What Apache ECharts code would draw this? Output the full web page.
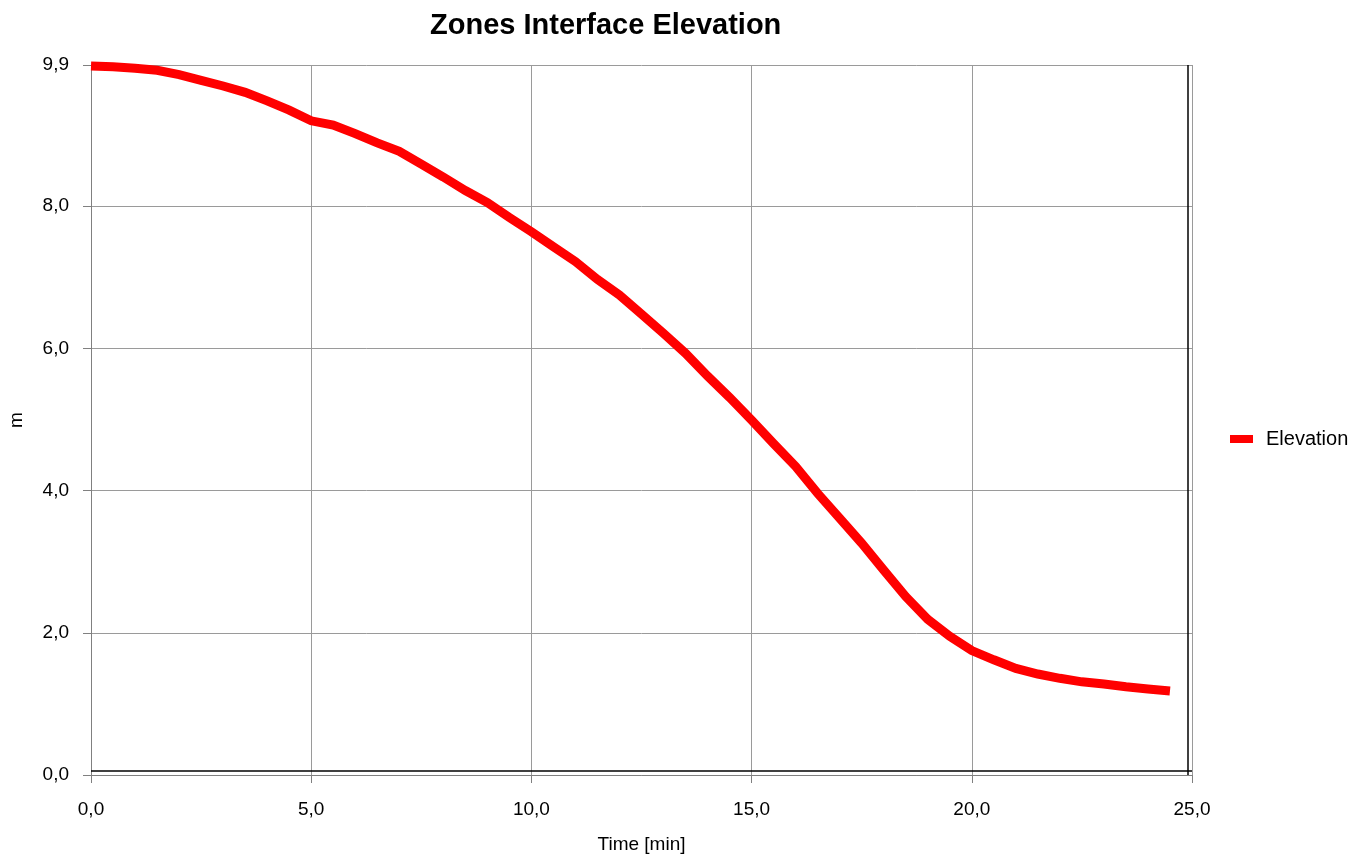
<!DOCTYPE html>
<html>
<head>
<meta charset="utf-8">
<script src="https://cdn.jsdelivr.net/npm/echarts@6/dist/echarts.min.js"></script>
<style>
html,body{margin:0;padding:0;background:#fff;}
#chart{width:1359px;height:858px;}
</style>
</head>
<body>
<div id="chart"></div>
<script>
// Time [min]
var timeMin = [0,0.5,1,1.5,2,2.5,3,3.5,4,4.5,5,5.5,6,6.5,7,7.5,8,8.5,9,9.5,10,10.5,11,11.5,12,12.5,13,13.5,14,14.5,15,15.5,16,16.5,17,17.5,18,18.5,19,19.5,20,20.5,21,21.5,22,22.5,23,23.5,24,24.5];
// Elevation [m]
var elevation = [9.97,9.96,9.94,9.91,9.85,9.77,9.69,9.60,9.48,9.35,9.20,9.14,9.02,8.89,8.77,8.59,8.41,8.22,8.05,7.84,7.64,7.43,7.22,6.97,6.75,6.48,6.21,5.93,5.61,5.31,4.99,4.66,4.34,3.96,3.61,3.26,2.88,2.51,2.19,1.95,1.75,1.62,1.50,1.42,1.36,1.31,1.28,1.24,1.21,1.18];
var seriesName = 'Elevation';
var titleText = 'Zones Interface Elevation';
var xName = 'Time [min]';
var yName = 'm';
var xMin = 0, xMax = 25, xStep = 5;
var yMin = 0, yMax = 9.985, yStep = 2;

function fmt(v){
  var f = Math.floor(v*10 + 1e-6)/10;
  return f.toFixed(1).replace('.', ',');
}

var points = timeMin.map(function(t,i){ return [t, elevation[i]]; });

var chart = echarts.init(document.getElementById('chart'), null, {renderer:'canvas'});
var font = '"Liberation Sans", Arial, sans-serif';
chart.setOption({
  animation:false,
  backgroundColor:'#ffffff',
  title:{
    text:titleText,
    left:425, top:6,
    textStyle:{fontFamily:font, fontWeight:'bold', fontSize:29, color:'#000'}
  },
  legend:{
    left:1230, top:429, padding:0,
    icon:'rect', itemWidth:23, itemHeight:8, itemGap:10,
    textStyle:{fontFamily:font, fontSize:20, color:'#000', padding:[0,0,0,8]},
    data:[seriesName]
  },
  grid:{left:91, right:167, top:65, bottom:83, containLabel:false, outerBoundsMode:'none'},
  xAxis:{
    type:'value', min:xMin, max:xMax, interval:xStep,
    name:xName, nameLocation:'middle', nameGap:60,
    nameTextStyle:{fontFamily:font, fontSize:19, color:'#000'},
    axisLine:{show:true, lineStyle:{color:'#808080', width:1}},
    axisTick:{show:true, inside:false, length:8, lineStyle:{color:'#808080'}},
    axisLabel:{fontFamily:font, fontSize:19, color:'#000', margin:25, formatter:fmt},
    splitLine:{show:true, lineStyle:{color:'#9a9a9a', width:1}}
  },
  yAxis:{
    type:'value', min:yMin, max:yMax, interval:yStep,
    name:yName, nameLocation:'middle', nameGap:65, nameRotate:90,
    nameTextStyle:{fontFamily:font, fontSize:19, color:'#000'},
    axisLine:{show:true, lineStyle:{color:'#808080', width:1}},
    axisTick:{show:true, inside:false, length:8, lineStyle:{color:'#808080'}},
    axisLabel:{fontFamily:font, fontSize:19, color:'#000', margin:22, formatter:fmt, showMaxLabel:true},
    splitLine:{show:true, lineStyle:{color:'#9a9a9a', width:1}}
  },
  series:[{
    name:seriesName,
    type:'line',
    data:points,
    showSymbol:false,
    symbol:'none',
    lineStyle:{color:'#ff0000', width:9, cap:'butt', join:'miter'},
    itemStyle:{color:'#ff0000'},
    markLine:{
      silent:true, symbol:'none', label:{show:false},
      lineStyle:{color:'#000', width:1.5, type:'solid'},
      data:[{xAxis:24.91},{yAxis:0.056}]
    },
    z:3
  }]
});
</script>
</body>
</html>
